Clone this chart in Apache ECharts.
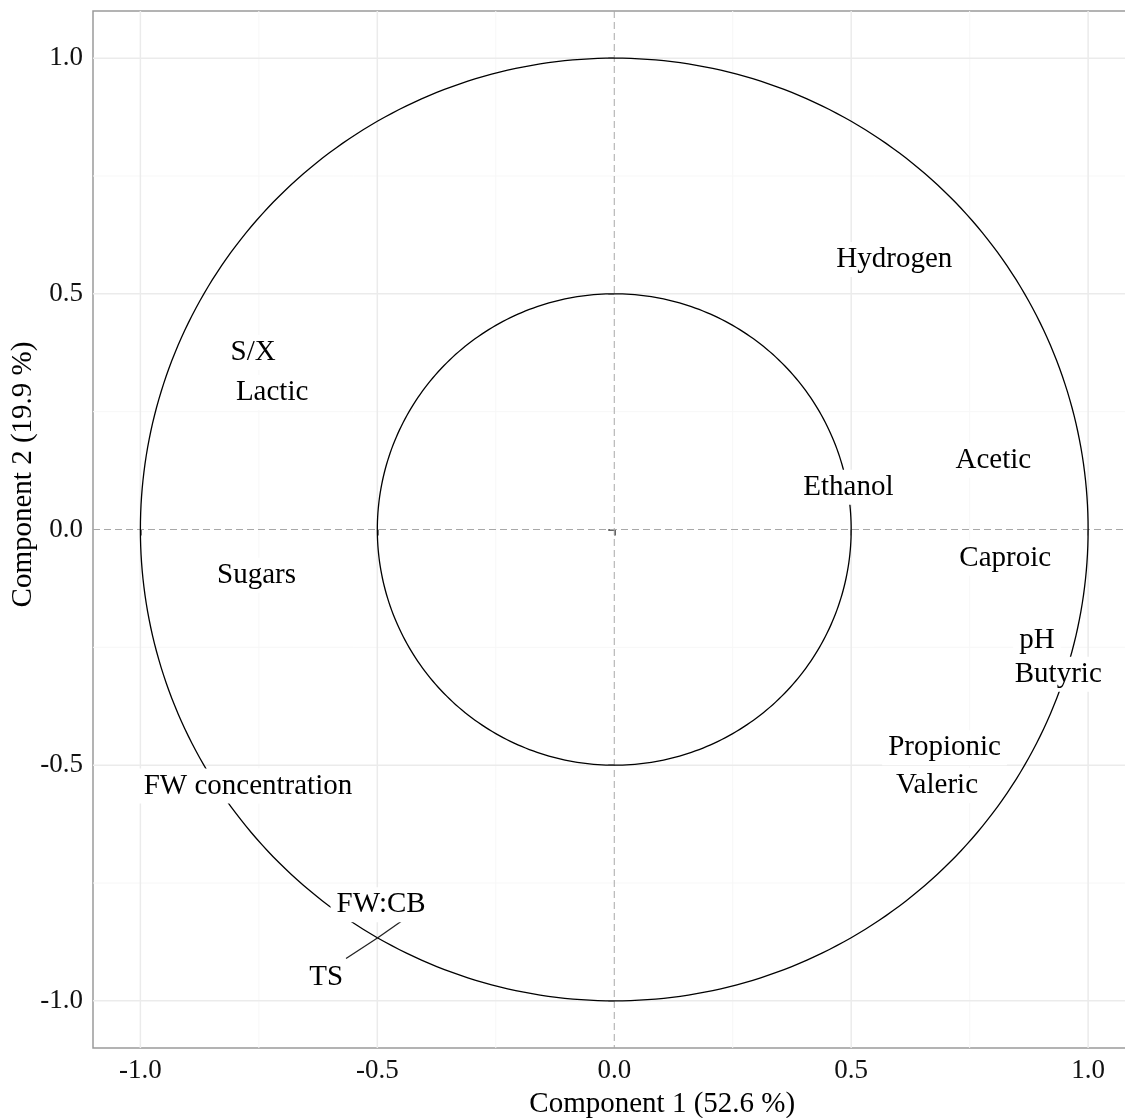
<!DOCTYPE html>
<html>
<head>
<meta charset="utf-8">
<script src="https://cdn.jsdelivr.net/npm/echarts@6/dist/echarts.min.js"></script>
<style>
    html, body { margin: 0; padding: 0; background: #fff; overflow: hidden; }
    #chart { width: 1140px; height: 1118px; }
</style>
</head>
<body>
<div id="chart"></div>
<script>
// variable labels (label centres in component space)
const varNames = ['Hydrogen', 'S/X', 'Lactic', 'Acetic', 'Ethanol', 'Caproic', 'pH', 'Butyric',
    'Propionic', 'Valeric', 'Sugars', 'FW concentration', 'FW:CB', 'TS'];
const comp1 = [0.591, -0.762, -0.722, 0.800, 0.494, 0.825, 0.892, 0.937,
    0.697, 0.681, -0.755, -0.773, -0.492, -0.608];
const comp2 = [0.577, 0.380, 0.295, 0.151, 0.094, -0.057, -0.231, -0.303,
    -0.459, -0.539, -0.093, -0.540, -0.792, -0.945];

// repel segments: point -> label edge
const segStart = [[-0.499, -0.866], [-0.499, -0.866]];
const segEnd = [[-0.438, -0.823], [-0.566, -0.910]];

const circleRadii = [1, 0.5];
const majorBreaks = [-1, -0.5, 0, 0.5, 1];
const minorBreaks = [-0.75, -0.25, 0.25, 0.75];
const tickLabels = ['-1.0', '-0.5', '0.0', '0.5', '1.0'];

const FONT = 'Liberation Serif';

function gridLines(color, width, dash) {
    return function (params, api) {
        const cs = params.coordSys;
        const p = api.coord([api.value(0), api.value(0)]);
        const style = { stroke: color, lineWidth: width, lineDash: dash || null };
        return {
            type: 'group',
            children: [
                { type: 'line', shape: { x1: p[0], y1: cs.y, x2: p[0], y2: cs.y + cs.height }, style: style },
                { type: 'line', shape: { x1: cs.x, y1: p[1], x2: cs.x + cs.width, y2: p[1] }, style: style }
            ]
        };
    };
}

let myChart = echarts.init(document.getElementById('chart'));

let option = {
    animation: false,
    backgroundColor: '#fff',
    grid: {
        left: 93, top: 11, right: 4.5, bottom: 70,
        outerBoundsMode: 'none', containLabel: false,
        show: true, borderColor: '#9a9a9a', borderWidth: 1.5, backgroundColor: '#fff'
    },
    xAxis: {
        type: 'value', min: -1.1, max: 1.1,
        name: 'Component 1 (52.6 %)', nameLocation: 'middle', nameGap: 42, nameMoveOverlap: false,
        nameTextStyle: { fontFamily: FONT, fontSize: 29, color: '#000', padding: [0, 0, 0, 96] },
        axisLine: { show: false },
        axisTick: { show: true, length: 6, customValues: majorBreaks, lineStyle: { color: '#333', width: 1.5 } },
        axisLabel: {
            customValues: majorBreaks, fontFamily: FONT, fontSize: 27, color: '#111', margin: 9,
            formatter: v => tickLabels[majorBreaks.indexOf(Math.round(v * 100) / 100)]
        },
        splitLine: { show: false }
    },
    yAxis: {
        type: 'value', min: -1.1, max: 1.1,
        name: 'Component 2 (19.9 %)', nameLocation: 'middle', nameGap: 55, nameMoveOverlap: false,
        nameTextStyle: { fontFamily: FONT, fontSize: 29, color: '#000', padding: [0, 0, 0, 110] },
        axisLine: { show: false },
        axisTick: { show: true, length: 6, customValues: majorBreaks, lineStyle: { color: '#333', width: 1.5 } },
        axisLabel: {
            customValues: majorBreaks, fontFamily: FONT, fontSize: 27, color: '#111', margin: 10,
            formatter: v => tickLabels[majorBreaks.indexOf(Math.round(v * 100) / 100)]
        },
        splitLine: { show: false }
    },
    series: [
        {
            type: 'custom', z: 1, silent: true,
            data: minorBreaks.map(v => [v]),
            renderItem: gridLines('#f7f7f7', 1)
        },
        {
            type: 'custom', z: 1, silent: true,
            data: majorBreaks.filter(v => v !== 0).map(v => [v]),
            renderItem: gridLines('#ebebeb', 1.5)
        },
        {
            type: 'custom', z: 1, silent: true,
            data: [[0]],
            renderItem: gridLines('#a8a8a8', 1, [7, 4])
        },
        {
            type: 'custom', z: 2, silent: true,
            data: circleRadii.map(r => [r]),
            renderItem: function (params, api) {
                const r = api.value(0);
                const pts = [];
                for (let i = 0; i <= 360; i++) {
                    const t = i * Math.PI / 180;
                    pts.push(api.coord([r * Math.cos(t), r * Math.sin(t)]));
                }
                return {
                    type: 'polyline', shape: { points: pts },
                    style: { stroke: '#000', lineWidth: 1.3, fill: null }
                };
            }
        },
        {
            type: 'custom', z: 3, silent: true,
            data: segStart.map((s, i) => [s[0], s[1], segEnd[i][0], segEnd[i][1]]),
            renderItem: function (params, api) {
                const a = api.coord([api.value(0), api.value(1)]);
                const b = api.coord([api.value(2), api.value(3)]);
                return {
                    type: 'line', shape: { x1: a[0], y1: a[1], x2: b[0], y2: b[1] },
                    style: { stroke: '#222', lineWidth: 1.3 }
                };
            }
        },
        {
            type: 'scatter', z: 5, silent: true,
            symbolSize: 1,
            itemStyle: { color: '#fff', opacity: 1 },
            data: varNames.map((n, i) => ({ name: n, value: [comp1[i], comp2[i]] })),
            label: {
                show: true, position: 'inside', formatter: p => p.name, offset: [0, 2],
                fontFamily: FONT, fontSize: 29, color: '#000', opacity: 1,
                backgroundColor: '#fff', padding: [3, 6]
            },
            emphasis: { disabled: true }
        }
    ]
};

myChart.setOption(option);
</script>
</body>
</html>
